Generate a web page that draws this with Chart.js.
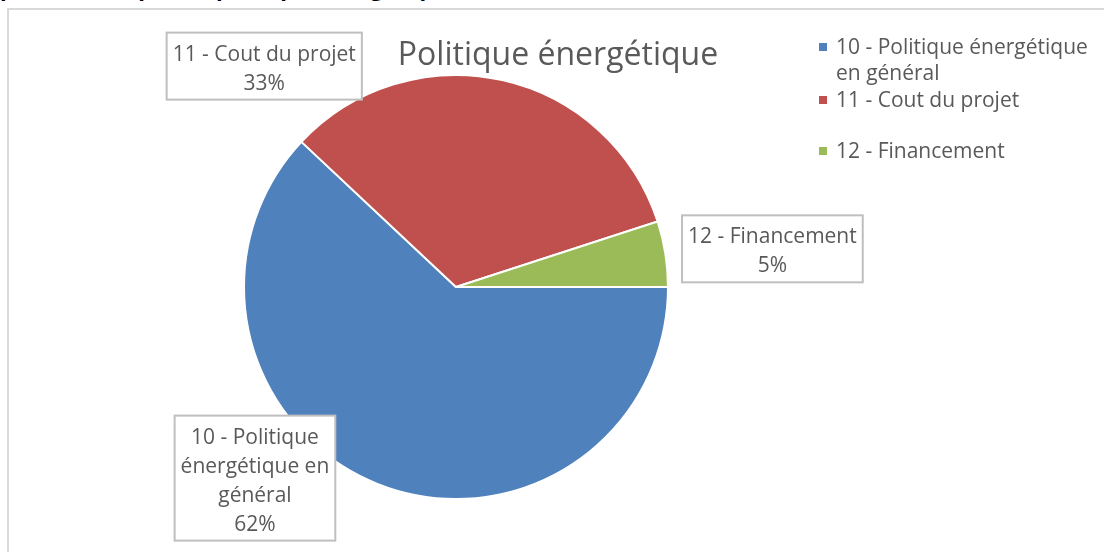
<!DOCTYPE html>
<html>
<head>
<meta charset="utf-8">
<script src="https://cdn.jsdelivr.net/npm/chart.js@4"></script>
<style>
    body { margin: 0; background: #fff; overflow: hidden; width: 1104px; height: 552px; position: relative; }
    #cut { position: absolute; left: 0; top: -24px; font: bold 22px "Open Sans", sans-serif; line-height: 22px; color: #000; white-space: nowrap; }
    #frame { position: absolute; left: 7px; top: 8px; width: 1200px; height: 700px; border: 2px solid #d9d9d9; }
    #myChart { position: absolute; left: 0; top: 0; }
</style>
</head>
<body>
<div id="cut">par thématique : la politique énergétique</div>
<div id="frame"></div>
<canvas id="myChart" width="1104" height="552"></canvas>
<script>
const title = 'Politique énergétique';
const categories = ['10 - Politique énergétique en général', '11 - Cout du projet', '12 - Financement'];
const values = [62, 33, 5];
const colors = ['#4F81BD', '#C0504D', '#9BBB59'];
// legend lines and data label lines (as wrapped in the picture)
const legendLines = [['10 - Politique énergétique', 'en général'], ['11 - Cout du projet'], ['12 - Financement']];
const labelLines = [['10 - Politique', 'énergétique en', 'général'], ['11 - Cout du projet'], ['12 - Financement']];

const font = '"Open Sans", sans-serif';
const textColor = '#595959';
// label box shift from the slice's outer midpoint
const labelShift = [[-123, -6], [-238, -14], [107, -5]];
const legendY = [47, 100, 151];

const extras = {
    id: 'extras',
    afterDraw(chart) {
        const ctx = chart.ctx;
        const meta = chart.getDatasetMeta(0);
        const total = values.reduce((a, b) => a + b, 0);
        ctx.save();
        ctx.fillStyle = textColor;
        ctx.textAlign = 'center';
        ctx.textBaseline = 'alphabetic';
        ctx.font = '32px ' + font;
        ctx.fillText(title, 558, 65);

        // data labels
        ctx.font = '21px ' + font;
        meta.data.forEach((arc, i) => {
            const mid = (arc.startAngle + arc.endAngle) / 2;
            const ax = arc.x + Math.cos(mid) * arc.outerRadius;
            const ay = arc.y + Math.sin(mid) * arc.outerRadius;
            const lines = labelLines[i].concat([Math.round(values[i] / total * 100) + '%']);
            const lh = 29;
            const w = Math.max(...lines.map(l => ctx.measureText(l).width)) + 12;
            const h = lines.length * lh + 9;
            const cx = ax + labelShift[i][0];
            const cy = ay + labelShift[i][1];
            const top = cy - h / 2;
            ctx.fillStyle = '#fff';
            ctx.fillRect(cx - w / 2, top, w, h);
            ctx.strokeStyle = '#bfbfbf';
            ctx.lineWidth = 2;
            ctx.strokeRect(cx - w / 2, top, w, h);
            ctx.fillStyle = textColor;
            lines.forEach((l, k) => {
                ctx.fillText(l, cx, top + 28 + k * lh);
            });
        });

        // legend
        ctx.textAlign = 'left';
        ctx.font = '21px ' + font;
        legendLines.forEach((lines, i) => {
            const y = legendY[i];
            ctx.fillStyle = colors[i];
            ctx.fillRect(819, y - 4, 8, 8);
            ctx.fillStyle = textColor;
            lines.forEach((l, k) => ctx.fillText(l, 836, y + 7 + k * 26));
        });
        ctx.restore();
    }
};

const ctx = document.getElementById('myChart').getContext('2d');
const myChart = new Chart(ctx, {
    type: 'pie',
    data: {
        labels: categories,
        datasets: [{
            data: values,
            backgroundColor: colors,
            borderColor: '#ffffff',
            borderWidth: 2
        }]
    },
    options: {
        responsive: false,
        animation: false,
        rotation: 90,
        layout: { padding: { left: 243, right: 435, top: 74, bottom: 52 } },
        plugins: {
            legend: { display: false },
            tooltip: { enabled: false }
        }
    },
    plugins: [extras]
});
</script>
</body>
</html>
